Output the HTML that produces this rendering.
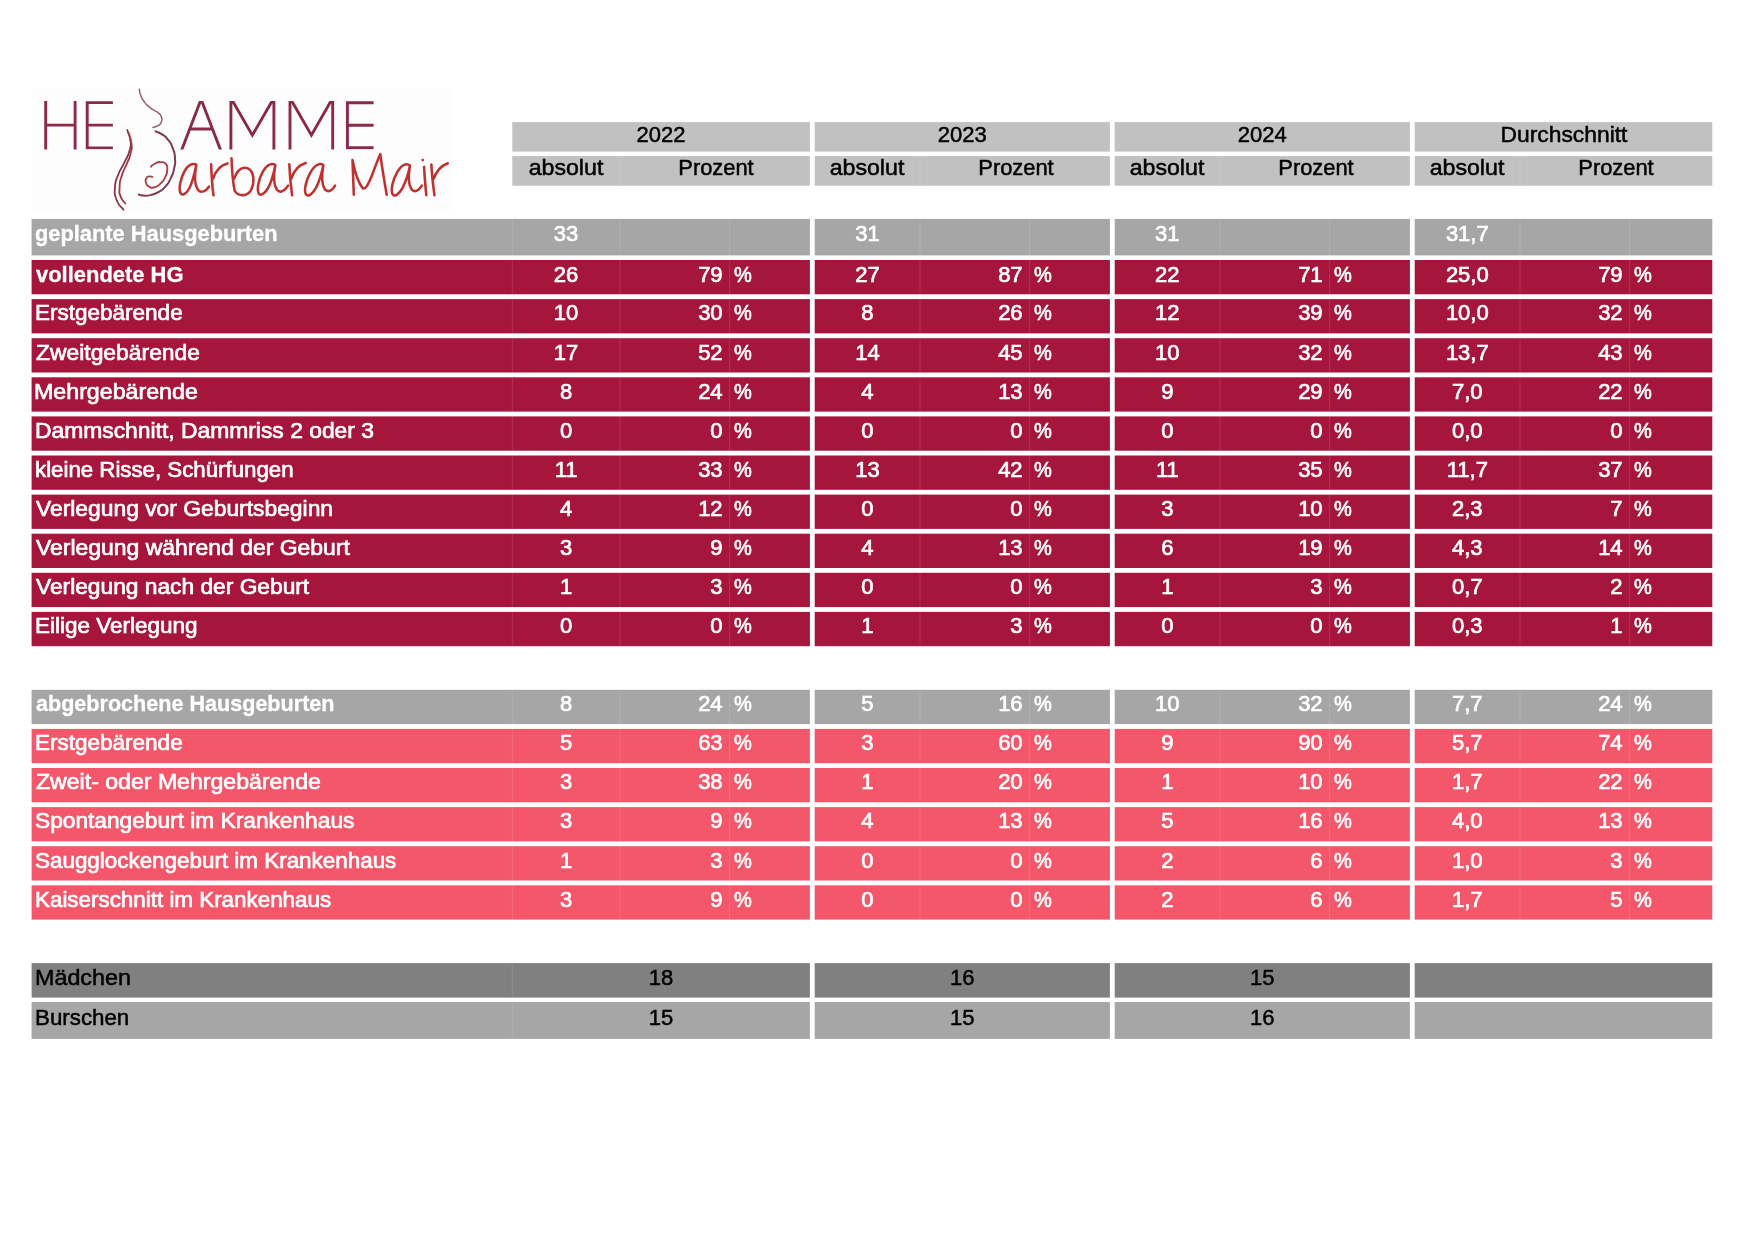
<!DOCTYPE html>
<html lang="de"><head><meta charset="utf-8"><title>Hausgeburten Statistik</title>
<style>
html,body{margin:0;padding:0;background:#fff}
body{width:1754px;height:1239px;position:relative;overflow:hidden;font-family:"Liberation Sans",sans-serif}
#bg,#logo{position:absolute;left:0;top:0}
#tx{position:absolute;left:0;top:0;width:1754px;height:1239px;will-change:transform}
.t{position:absolute;white-space:nowrap;font-size:22px;line-height:25px;height:25px;color:#fff;-webkit-text-stroke:0.7px currentColor}
.k{color:#000;-webkit-text-stroke-width:0.5px}
.b{font-weight:bold;-webkit-text-stroke-width:0.3px}
.l{transform-origin:0 50%}
.c{transform-origin:50% 50%}
.r{transform-origin:100% 50%}
</style></head><body>
<svg id="bg" width="1754" height="1239" viewBox="0 0 1754 1239">
<rect x="512.3" y="122.1" width="297.6" height="29.5" fill="#c1c1c1"/>
<rect x="512.3" y="156.1" width="297.6" height="29.6" fill="#c1c1c1"/>
<rect x="814.7" y="122.1" width="295.2" height="29.5" fill="#c1c1c1"/>
<rect x="814.7" y="156.1" width="295.2" height="29.6" fill="#c1c1c1"/>
<rect x="1114.7" y="122.1" width="295.2" height="29.5" fill="#c1c1c1"/>
<rect x="1114.7" y="156.1" width="295.2" height="29.6" fill="#c1c1c1"/>
<rect x="1414.7" y="122.1" width="297.6" height="29.5" fill="#c1c1c1"/>
<rect x="1414.7" y="156.1" width="297.6" height="29.6" fill="#c1c1c1"/>
<rect x="31.6" y="218.9" width="778.3" height="36.5" fill="#a6a6a6"/>
<rect x="814.7" y="218.9" width="295.2" height="36.5" fill="#a6a6a6"/>
<rect x="1114.7" y="218.9" width="295.2" height="36.5" fill="#a6a6a6"/>
<rect x="1414.7" y="218.9" width="297.6" height="36.5" fill="#a6a6a6"/>
<rect x="31.6" y="260.0" width="778.3" height="34.3" fill="#a6163c"/>
<rect x="814.7" y="260.0" width="295.2" height="34.3" fill="#a6163c"/>
<rect x="1114.7" y="260.0" width="295.2" height="34.3" fill="#a6163c"/>
<rect x="1414.7" y="260.0" width="297.6" height="34.3" fill="#a6163c"/>
<rect x="31.6" y="299.1" width="778.3" height="34.3" fill="#a6163c"/>
<rect x="814.7" y="299.1" width="295.2" height="34.3" fill="#a6163c"/>
<rect x="1114.7" y="299.1" width="295.2" height="34.3" fill="#a6163c"/>
<rect x="1414.7" y="299.1" width="297.6" height="34.3" fill="#a6163c"/>
<rect x="31.6" y="338.2" width="778.3" height="34.3" fill="#a6163c"/>
<rect x="814.7" y="338.2" width="295.2" height="34.3" fill="#a6163c"/>
<rect x="1114.7" y="338.2" width="295.2" height="34.3" fill="#a6163c"/>
<rect x="1414.7" y="338.2" width="297.6" height="34.3" fill="#a6163c"/>
<rect x="31.6" y="377.3" width="778.3" height="34.3" fill="#a6163c"/>
<rect x="814.7" y="377.3" width="295.2" height="34.3" fill="#a6163c"/>
<rect x="1114.7" y="377.3" width="295.2" height="34.3" fill="#a6163c"/>
<rect x="1414.7" y="377.3" width="297.6" height="34.3" fill="#a6163c"/>
<rect x="31.6" y="416.4" width="778.3" height="34.3" fill="#a6163c"/>
<rect x="814.7" y="416.4" width="295.2" height="34.3" fill="#a6163c"/>
<rect x="1114.7" y="416.4" width="295.2" height="34.3" fill="#a6163c"/>
<rect x="1414.7" y="416.4" width="297.6" height="34.3" fill="#a6163c"/>
<rect x="31.6" y="455.5" width="778.3" height="34.3" fill="#a6163c"/>
<rect x="814.7" y="455.5" width="295.2" height="34.3" fill="#a6163c"/>
<rect x="1114.7" y="455.5" width="295.2" height="34.3" fill="#a6163c"/>
<rect x="1414.7" y="455.5" width="297.6" height="34.3" fill="#a6163c"/>
<rect x="31.6" y="494.6" width="778.3" height="34.3" fill="#a6163c"/>
<rect x="814.7" y="494.6" width="295.2" height="34.3" fill="#a6163c"/>
<rect x="1114.7" y="494.6" width="295.2" height="34.3" fill="#a6163c"/>
<rect x="1414.7" y="494.6" width="297.6" height="34.3" fill="#a6163c"/>
<rect x="31.6" y="533.7" width="778.3" height="34.3" fill="#a6163c"/>
<rect x="814.7" y="533.7" width="295.2" height="34.3" fill="#a6163c"/>
<rect x="1114.7" y="533.7" width="295.2" height="34.3" fill="#a6163c"/>
<rect x="1414.7" y="533.7" width="297.6" height="34.3" fill="#a6163c"/>
<rect x="31.6" y="572.8" width="778.3" height="34.3" fill="#a6163c"/>
<rect x="814.7" y="572.8" width="295.2" height="34.3" fill="#a6163c"/>
<rect x="1114.7" y="572.8" width="295.2" height="34.3" fill="#a6163c"/>
<rect x="1414.7" y="572.8" width="297.6" height="34.3" fill="#a6163c"/>
<rect x="31.6" y="611.9" width="778.3" height="34.3" fill="#a6163c"/>
<rect x="814.7" y="611.9" width="295.2" height="34.3" fill="#a6163c"/>
<rect x="1114.7" y="611.9" width="295.2" height="34.3" fill="#a6163c"/>
<rect x="1414.7" y="611.9" width="297.6" height="34.3" fill="#a6163c"/>
<rect x="31.6" y="689.8" width="778.3" height="34.3" fill="#a6a6a6"/>
<rect x="814.7" y="689.8" width="295.2" height="34.3" fill="#a6a6a6"/>
<rect x="1114.7" y="689.8" width="295.2" height="34.3" fill="#a6a6a6"/>
<rect x="1414.7" y="689.8" width="297.6" height="34.3" fill="#a6a6a6"/>
<rect x="31.6" y="728.9" width="778.3" height="34.3" fill="#f4576a"/>
<rect x="814.7" y="728.9" width="295.2" height="34.3" fill="#f4576a"/>
<rect x="1114.7" y="728.9" width="295.2" height="34.3" fill="#f4576a"/>
<rect x="1414.7" y="728.9" width="297.6" height="34.3" fill="#f4576a"/>
<rect x="31.6" y="768.0" width="778.3" height="34.3" fill="#f4576a"/>
<rect x="814.7" y="768.0" width="295.2" height="34.3" fill="#f4576a"/>
<rect x="1114.7" y="768.0" width="295.2" height="34.3" fill="#f4576a"/>
<rect x="1414.7" y="768.0" width="297.6" height="34.3" fill="#f4576a"/>
<rect x="31.6" y="807.1" width="778.3" height="34.3" fill="#f4576a"/>
<rect x="814.7" y="807.1" width="295.2" height="34.3" fill="#f4576a"/>
<rect x="1114.7" y="807.1" width="295.2" height="34.3" fill="#f4576a"/>
<rect x="1414.7" y="807.1" width="297.6" height="34.3" fill="#f4576a"/>
<rect x="31.6" y="846.2" width="778.3" height="34.3" fill="#f4576a"/>
<rect x="814.7" y="846.2" width="295.2" height="34.3" fill="#f4576a"/>
<rect x="1114.7" y="846.2" width="295.2" height="34.3" fill="#f4576a"/>
<rect x="1414.7" y="846.2" width="297.6" height="34.3" fill="#f4576a"/>
<rect x="31.6" y="885.3" width="778.3" height="34.3" fill="#f4576a"/>
<rect x="814.7" y="885.3" width="295.2" height="34.3" fill="#f4576a"/>
<rect x="1114.7" y="885.3" width="295.2" height="34.3" fill="#f4576a"/>
<rect x="1414.7" y="885.3" width="297.6" height="34.3" fill="#f4576a"/>
<rect x="31.6" y="963.1" width="778.3" height="34.5" fill="#808080"/>
<rect x="814.7" y="963.1" width="295.2" height="34.5" fill="#808080"/>
<rect x="1114.7" y="963.1" width="295.2" height="34.5" fill="#808080"/>
<rect x="1414.7" y="963.1" width="297.6" height="34.5" fill="#808080"/>
<rect x="31.6" y="1002.0" width="778.3" height="36.9" fill="#a6a6a6"/>
<rect x="814.7" y="1002.0" width="295.2" height="36.9" fill="#a6a6a6"/>
<rect x="1114.7" y="1002.0" width="295.2" height="36.9" fill="#a6a6a6"/>
<rect x="1414.7" y="1002.0" width="297.6" height="36.9" fill="#a6a6a6"/>
<g stroke="#fff" stroke-opacity="0.13" stroke-width="1">
<line x1="620.0" y1="156.1" x2="620.0" y2="185.7"/>
<line x1="920.0" y1="156.1" x2="920.0" y2="185.7"/>
<line x1="1220.0" y1="156.1" x2="1220.0" y2="185.7"/>
<line x1="1520.0" y1="156.1" x2="1520.0" y2="185.7"/>
<line x1="512.3" y1="218.9" x2="512.3" y2="255.4"/>
<line x1="620.0" y1="218.9" x2="620.0" y2="255.4"/>
<line x1="729.6" y1="218.9" x2="729.6" y2="255.4"/>
<line x1="920.0" y1="218.9" x2="920.0" y2="255.4"/>
<line x1="1029.6" y1="218.9" x2="1029.6" y2="255.4"/>
<line x1="1220.0" y1="218.9" x2="1220.0" y2="255.4"/>
<line x1="1329.6" y1="218.9" x2="1329.6" y2="255.4"/>
<line x1="1520.0" y1="218.9" x2="1520.0" y2="255.4"/>
<line x1="1629.6" y1="218.9" x2="1629.6" y2="255.4"/>
<line x1="512.3" y1="260.0" x2="512.3" y2="294.3"/>
<line x1="620.0" y1="260.0" x2="620.0" y2="294.3"/>
<line x1="729.6" y1="260.0" x2="729.6" y2="294.3"/>
<line x1="920.0" y1="260.0" x2="920.0" y2="294.3"/>
<line x1="1029.6" y1="260.0" x2="1029.6" y2="294.3"/>
<line x1="1220.0" y1="260.0" x2="1220.0" y2="294.3"/>
<line x1="1329.6" y1="260.0" x2="1329.6" y2="294.3"/>
<line x1="1520.0" y1="260.0" x2="1520.0" y2="294.3"/>
<line x1="1629.6" y1="260.0" x2="1629.6" y2="294.3"/>
<line x1="512.3" y1="299.1" x2="512.3" y2="333.4"/>
<line x1="620.0" y1="299.1" x2="620.0" y2="333.4"/>
<line x1="729.6" y1="299.1" x2="729.6" y2="333.4"/>
<line x1="920.0" y1="299.1" x2="920.0" y2="333.4"/>
<line x1="1029.6" y1="299.1" x2="1029.6" y2="333.4"/>
<line x1="1220.0" y1="299.1" x2="1220.0" y2="333.4"/>
<line x1="1329.6" y1="299.1" x2="1329.6" y2="333.4"/>
<line x1="1520.0" y1="299.1" x2="1520.0" y2="333.4"/>
<line x1="1629.6" y1="299.1" x2="1629.6" y2="333.4"/>
<line x1="512.3" y1="338.2" x2="512.3" y2="372.5"/>
<line x1="620.0" y1="338.2" x2="620.0" y2="372.5"/>
<line x1="729.6" y1="338.2" x2="729.6" y2="372.5"/>
<line x1="920.0" y1="338.2" x2="920.0" y2="372.5"/>
<line x1="1029.6" y1="338.2" x2="1029.6" y2="372.5"/>
<line x1="1220.0" y1="338.2" x2="1220.0" y2="372.5"/>
<line x1="1329.6" y1="338.2" x2="1329.6" y2="372.5"/>
<line x1="1520.0" y1="338.2" x2="1520.0" y2="372.5"/>
<line x1="1629.6" y1="338.2" x2="1629.6" y2="372.5"/>
<line x1="512.3" y1="377.3" x2="512.3" y2="411.6"/>
<line x1="620.0" y1="377.3" x2="620.0" y2="411.6"/>
<line x1="729.6" y1="377.3" x2="729.6" y2="411.6"/>
<line x1="920.0" y1="377.3" x2="920.0" y2="411.6"/>
<line x1="1029.6" y1="377.3" x2="1029.6" y2="411.6"/>
<line x1="1220.0" y1="377.3" x2="1220.0" y2="411.6"/>
<line x1="1329.6" y1="377.3" x2="1329.6" y2="411.6"/>
<line x1="1520.0" y1="377.3" x2="1520.0" y2="411.6"/>
<line x1="1629.6" y1="377.3" x2="1629.6" y2="411.6"/>
<line x1="512.3" y1="416.4" x2="512.3" y2="450.7"/>
<line x1="620.0" y1="416.4" x2="620.0" y2="450.7"/>
<line x1="729.6" y1="416.4" x2="729.6" y2="450.7"/>
<line x1="920.0" y1="416.4" x2="920.0" y2="450.7"/>
<line x1="1029.6" y1="416.4" x2="1029.6" y2="450.7"/>
<line x1="1220.0" y1="416.4" x2="1220.0" y2="450.7"/>
<line x1="1329.6" y1="416.4" x2="1329.6" y2="450.7"/>
<line x1="1520.0" y1="416.4" x2="1520.0" y2="450.7"/>
<line x1="1629.6" y1="416.4" x2="1629.6" y2="450.7"/>
<line x1="512.3" y1="455.5" x2="512.3" y2="489.8"/>
<line x1="620.0" y1="455.5" x2="620.0" y2="489.8"/>
<line x1="729.6" y1="455.5" x2="729.6" y2="489.8"/>
<line x1="920.0" y1="455.5" x2="920.0" y2="489.8"/>
<line x1="1029.6" y1="455.5" x2="1029.6" y2="489.8"/>
<line x1="1220.0" y1="455.5" x2="1220.0" y2="489.8"/>
<line x1="1329.6" y1="455.5" x2="1329.6" y2="489.8"/>
<line x1="1520.0" y1="455.5" x2="1520.0" y2="489.8"/>
<line x1="1629.6" y1="455.5" x2="1629.6" y2="489.8"/>
<line x1="512.3" y1="494.6" x2="512.3" y2="528.9"/>
<line x1="620.0" y1="494.6" x2="620.0" y2="528.9"/>
<line x1="729.6" y1="494.6" x2="729.6" y2="528.9"/>
<line x1="920.0" y1="494.6" x2="920.0" y2="528.9"/>
<line x1="1029.6" y1="494.6" x2="1029.6" y2="528.9"/>
<line x1="1220.0" y1="494.6" x2="1220.0" y2="528.9"/>
<line x1="1329.6" y1="494.6" x2="1329.6" y2="528.9"/>
<line x1="1520.0" y1="494.6" x2="1520.0" y2="528.9"/>
<line x1="1629.6" y1="494.6" x2="1629.6" y2="528.9"/>
<line x1="512.3" y1="533.7" x2="512.3" y2="568.0"/>
<line x1="620.0" y1="533.7" x2="620.0" y2="568.0"/>
<line x1="729.6" y1="533.7" x2="729.6" y2="568.0"/>
<line x1="920.0" y1="533.7" x2="920.0" y2="568.0"/>
<line x1="1029.6" y1="533.7" x2="1029.6" y2="568.0"/>
<line x1="1220.0" y1="533.7" x2="1220.0" y2="568.0"/>
<line x1="1329.6" y1="533.7" x2="1329.6" y2="568.0"/>
<line x1="1520.0" y1="533.7" x2="1520.0" y2="568.0"/>
<line x1="1629.6" y1="533.7" x2="1629.6" y2="568.0"/>
<line x1="512.3" y1="572.8" x2="512.3" y2="607.1"/>
<line x1="620.0" y1="572.8" x2="620.0" y2="607.1"/>
<line x1="729.6" y1="572.8" x2="729.6" y2="607.1"/>
<line x1="920.0" y1="572.8" x2="920.0" y2="607.1"/>
<line x1="1029.6" y1="572.8" x2="1029.6" y2="607.1"/>
<line x1="1220.0" y1="572.8" x2="1220.0" y2="607.1"/>
<line x1="1329.6" y1="572.8" x2="1329.6" y2="607.1"/>
<line x1="1520.0" y1="572.8" x2="1520.0" y2="607.1"/>
<line x1="1629.6" y1="572.8" x2="1629.6" y2="607.1"/>
<line x1="512.3" y1="611.9" x2="512.3" y2="646.2"/>
<line x1="620.0" y1="611.9" x2="620.0" y2="646.2"/>
<line x1="729.6" y1="611.9" x2="729.6" y2="646.2"/>
<line x1="920.0" y1="611.9" x2="920.0" y2="646.2"/>
<line x1="1029.6" y1="611.9" x2="1029.6" y2="646.2"/>
<line x1="1220.0" y1="611.9" x2="1220.0" y2="646.2"/>
<line x1="1329.6" y1="611.9" x2="1329.6" y2="646.2"/>
<line x1="1520.0" y1="611.9" x2="1520.0" y2="646.2"/>
<line x1="1629.6" y1="611.9" x2="1629.6" y2="646.2"/>
<line x1="512.3" y1="689.8" x2="512.3" y2="724.1"/>
<line x1="620.0" y1="689.8" x2="620.0" y2="724.1"/>
<line x1="729.6" y1="689.8" x2="729.6" y2="724.1"/>
<line x1="920.0" y1="689.8" x2="920.0" y2="724.1"/>
<line x1="1029.6" y1="689.8" x2="1029.6" y2="724.1"/>
<line x1="1220.0" y1="689.8" x2="1220.0" y2="724.1"/>
<line x1="1329.6" y1="689.8" x2="1329.6" y2="724.1"/>
<line x1="1520.0" y1="689.8" x2="1520.0" y2="724.1"/>
<line x1="1629.6" y1="689.8" x2="1629.6" y2="724.1"/>
<line x1="512.3" y1="728.9" x2="512.3" y2="763.2"/>
<line x1="620.0" y1="728.9" x2="620.0" y2="763.2"/>
<line x1="729.6" y1="728.9" x2="729.6" y2="763.2"/>
<line x1="920.0" y1="728.9" x2="920.0" y2="763.2"/>
<line x1="1029.6" y1="728.9" x2="1029.6" y2="763.2"/>
<line x1="1220.0" y1="728.9" x2="1220.0" y2="763.2"/>
<line x1="1329.6" y1="728.9" x2="1329.6" y2="763.2"/>
<line x1="1520.0" y1="728.9" x2="1520.0" y2="763.2"/>
<line x1="1629.6" y1="728.9" x2="1629.6" y2="763.2"/>
<line x1="512.3" y1="768.0" x2="512.3" y2="802.3"/>
<line x1="620.0" y1="768.0" x2="620.0" y2="802.3"/>
<line x1="729.6" y1="768.0" x2="729.6" y2="802.3"/>
<line x1="920.0" y1="768.0" x2="920.0" y2="802.3"/>
<line x1="1029.6" y1="768.0" x2="1029.6" y2="802.3"/>
<line x1="1220.0" y1="768.0" x2="1220.0" y2="802.3"/>
<line x1="1329.6" y1="768.0" x2="1329.6" y2="802.3"/>
<line x1="1520.0" y1="768.0" x2="1520.0" y2="802.3"/>
<line x1="1629.6" y1="768.0" x2="1629.6" y2="802.3"/>
<line x1="512.3" y1="807.1" x2="512.3" y2="841.4"/>
<line x1="620.0" y1="807.1" x2="620.0" y2="841.4"/>
<line x1="729.6" y1="807.1" x2="729.6" y2="841.4"/>
<line x1="920.0" y1="807.1" x2="920.0" y2="841.4"/>
<line x1="1029.6" y1="807.1" x2="1029.6" y2="841.4"/>
<line x1="1220.0" y1="807.1" x2="1220.0" y2="841.4"/>
<line x1="1329.6" y1="807.1" x2="1329.6" y2="841.4"/>
<line x1="1520.0" y1="807.1" x2="1520.0" y2="841.4"/>
<line x1="1629.6" y1="807.1" x2="1629.6" y2="841.4"/>
<line x1="512.3" y1="846.2" x2="512.3" y2="880.5"/>
<line x1="620.0" y1="846.2" x2="620.0" y2="880.5"/>
<line x1="729.6" y1="846.2" x2="729.6" y2="880.5"/>
<line x1="920.0" y1="846.2" x2="920.0" y2="880.5"/>
<line x1="1029.6" y1="846.2" x2="1029.6" y2="880.5"/>
<line x1="1220.0" y1="846.2" x2="1220.0" y2="880.5"/>
<line x1="1329.6" y1="846.2" x2="1329.6" y2="880.5"/>
<line x1="1520.0" y1="846.2" x2="1520.0" y2="880.5"/>
<line x1="1629.6" y1="846.2" x2="1629.6" y2="880.5"/>
<line x1="512.3" y1="885.3" x2="512.3" y2="919.6"/>
<line x1="620.0" y1="885.3" x2="620.0" y2="919.6"/>
<line x1="729.6" y1="885.3" x2="729.6" y2="919.6"/>
<line x1="920.0" y1="885.3" x2="920.0" y2="919.6"/>
<line x1="1029.6" y1="885.3" x2="1029.6" y2="919.6"/>
<line x1="1220.0" y1="885.3" x2="1220.0" y2="919.6"/>
<line x1="1329.6" y1="885.3" x2="1329.6" y2="919.6"/>
<line x1="1520.0" y1="885.3" x2="1520.0" y2="919.6"/>
<line x1="1629.6" y1="885.3" x2="1629.6" y2="919.6"/>
<line x1="512.3" y1="963.1" x2="512.3" y2="997.6"/>
<line x1="512.3" y1="1002.0" x2="512.3" y2="1038.9"/>
</g></svg>
<svg id="logo" width="520" height="230" viewBox="0 0 520 230" fill="none" stroke-linecap="round" stroke-linejoin="round">
<rect x="32" y="88" width="421" height="125" fill="#fefdfd" stroke="none"/>
<clipPath id="cp"><rect x="30" y="101" width="360" height="48.4"/></clipPath>
<g clip-path="url(#cp)"><g stroke="#8b2a46" stroke-width="2.9" stroke-linecap="butt" stroke-linejoin="miter" stroke-miterlimit="8">
<path d="M45.7 99V152M75.1 99V152M45.7 125.1H75.1"/>
<path d="M112.9 102.6H87.2V147.9H112.9M87.2 125.1H112.9"/>
<path d="M180.9 152L201.1 99.3L221.3 152M189.8 129H212.4"/>
<path d="M230.9 152V98L252.3 135.2L273.9 98V152"/>
<path d="M290 152V98L311.4 135.2L332.7 98V152"/>
<path d="M373.6 102.8H347.4V147.8H373.6M347.4 125.2H373.6"/>
</g></g>
<g stroke="#7d3a52" stroke-width="1.7">
<path d="M139.3 89.2C139.8 91.2 139.1 91.2 140.7 95.2C142.2 99.2 141.3 97.5 143.9 101.3C146.6 105.0 145.3 103.4 148.6 106.4C151.8 109.3 150.4 107.9 153.7 110.1C156.9 112.2 155.8 110.5 158.3 112.9C160.9 115.2 160.4 114.1 161.4 117.0C162.4 120.0 162.4 118.9 161.4 121.7C160.4 124.5 161.1 123.5 158.3 125.4C155.5 127.4 154.8 126.8 153.0 127.5" stroke-width="1.5" stroke-opacity=".8"/>
<path d="M155.5 131.4C157.6 132.4 157.4 131.4 161.6 134.2C165.8 137.0 164.4 135.2 168.1 139.8C171.8 144.4 170.4 142.0 172.7 148.2C175.0 154.3 174.6 151.6 175.0 158.4C175.5 165.2 175.5 162.1 174.1 168.6C172.7 175.1 173.7 172.0 170.9 177.9C168.1 183.8 169.8 181.6 165.8 186.2C161.7 190.9 163.9 188.9 158.8 191.8C153.7 194.7 155.7 193.8 150.4 195.1C145.2 196.3 146.9 195.7 143.0 195.5C139.1 195.4 140.2 194.9 138.8 194.6" stroke-width="2"/>
<path d="M127.2 130.0C128.2 133.3 129.5 133.0 130.3 139.9C131.1 146.8 131.6 143.0 129.5 150.7C127.5 158.3 128.0 154.7 124.2 162.9C120.3 171.1 121.1 167.0 118.0 175.2C115.0 183.3 115.5 179.3 115.0 187.4C114.5 195.6 113.7 192.3 116.5 199.7C119.3 207.1 121.1 206.3 123.4 209.7" stroke="#86354a" stroke-width="1.8"/>
</g>
<g stroke="#a9434b" stroke-width="1.9">
<path d="M150.9 166.7C152.3 165.6 151.8 165.0 155.1 163.5C158.3 161.9 157.1 161.9 160.6 162.1C164.2 162.2 163.6 161.5 165.8 163.9C167.9 166.4 167.3 165.2 167.2 169.5C167.0 173.9 167.5 172.3 165.3 176.9C163.1 181.6 164.2 180.0 160.6 183.4C157.1 186.9 158.5 186.1 154.6 187.2C150.7 188.2 151.9 188.2 149.0 186.7C146.2 185.2 146.9 185.3 146.0 182.5C145.0 179.7 145.2 180.4 146.3 178.3C147.3 176.3 147.0 176.9 149.0 176.5C151.1 176.0 151.2 176.8 152.3 176.9"/>
<path d="M128.0 132.3C129.1 135.8 130.5 136.1 131.4 143.0C132.3 149.9 132.1 146.3 130.7 153.0C129.3 159.6 130.2 155.5 127.2 162.9C124.3 170.3 124.4 167.0 121.9 175.2C119.3 183.3 119.9 180.3 119.6 187.4C119.2 194.6 118.8 191.3 120.7 196.6C122.6 202.0 123.8 201.2 125.3 203.5" stroke="#a03a45" stroke-width="1.8"/>
</g>
<g stroke="#bf3230" stroke-width="2.55">
<path d="M196.3 164.6 C193.1 163.0 188.4 164.2 184.4 171.3 C180.8 177.7 178.4 188.1 180.4 192.9 C182.0 196.1 186.0 194.5 189.2 188.5 C191.9 183.3 194.7 172.9 196.3 165.0 C194.3 175.3 194.7 184.9 197.9 189.7 C201.1 193.7 205.9 191.3 209.1 186.5"/>
<path d="M211.1 164.2 C211.5 175.3 212.3 186.5 213.5 195.3 M213.1 178.5 C215.5 171.3 220.3 165.0 227.5 163.4"/>
<path d="M231.5 158.2 C231.9 170.5 233.0 182.5 234.6 190.5 C236.2 193.7 240.2 195.7 245.0 194.9 C250.6 193.7 253.8 186.5 253.4 178.5 C253.0 171.3 249.0 167.3 244.2 167.7 C239.4 168.1 236.2 172.9 234.2 178.5"/>
<path d="M275.3 165.0 C272.2 163.0 267.4 163.8 263.0 171.3 C259.0 178.5 256.6 188.1 258.6 193.3 C260.2 196.1 264.2 194.5 267.8 188.5 C271.0 182.9 273.8 172.9 275.3 165.4 C273.4 175.3 273.8 184.9 276.9 189.7 C280.1 193.7 284.9 190.9 288.1 185.7"/>
<path d="M289.3 164.2 C289.7 175.3 290.9 186.5 292.1 195.3 M291.3 178.5 C293.7 171.3 298.5 165.0 305.7 163.0"/>
<path d="M323.3 165.1 C320.1 162.8 315.1 164.2 310.5 172.4 C306.4 179.7 303.6 189.7 305.9 194.3 C307.8 197.0 311.9 195.2 316.0 187.9 C319.2 181.5 321.9 172.4 323.3 165.5 C321.4 176.0 321.9 185.1 325.1 189.7 C328.3 192.9 332.4 190.2 335.1 185.6"/>
<path d="M353.8 194.7 C353.4 183.3 352.9 171.5 352.5 160.1 C354.7 171.5 358.4 183.3 362.9 188.3 C365.7 189.7 368.4 184.2 372.1 175.1 C374.8 167.8 377.5 160.5 380.3 154.1 C382.1 167.8 384.4 181.5 386.7 194.7"/>
<path d="M409.9 165.5 C406.7 162.8 401.7 164.2 397.1 172.4 C393.0 179.7 390.3 189.7 392.6 194.3 C394.4 197.0 398.5 195.2 402.6 187.9 C405.8 181.5 408.6 172.4 409.9 166.0 C408.1 176.0 408.6 185.1 411.7 189.7 C414.9 192.9 419.0 190.2 421.8 185.6"/>
<path d="M424.1 166.9 C424.5 176.9 425.4 186.0 426.3 195.2 M422.7 160.1 L422.8 160.1"/>
<path d="M431.4 164.6 C431.8 175.1 433.2 186.0 434.5 195.2 M433.6 178.8 C435.9 172.4 440.5 166.0 447.8 163.2"/>
</g>
</svg>
<div id="tx">
<span class="t c k" style="left:461.1px;width:400px;text-align:center;top:122.0px">2022</span>
<span class="t c k" style="left:366.1px;width:400px;text-align:center;top:155.0px;transform:scaleX(1.0529)">absolut</span>
<span class="t c k" style="left:516.4px;width:400px;text-align:center;top:155.0px;transform:scaleX(0.9947)">Prozent</span>
<span class="t c k" style="left:762.3px;width:400px;text-align:center;top:122.0px">2023</span>
<span class="t c k" style="left:667.4px;width:400px;text-align:center;top:155.0px;transform:scaleX(1.0529)">absolut</span>
<span class="t c k" style="left:816.4px;width:400px;text-align:center;top:155.0px;transform:scaleX(0.9947)">Prozent</span>
<span class="t c k" style="left:1062.3px;width:400px;text-align:center;top:122.0px">2024</span>
<span class="t c k" style="left:967.3px;width:400px;text-align:center;top:155.0px;transform:scaleX(1.0529)">absolut</span>
<span class="t c k" style="left:1116.4px;width:400px;text-align:center;top:155.0px;transform:scaleX(0.9947)">Prozent</span>
<span class="t c k" style="left:1363.5px;width:400px;text-align:center;top:122.0px;transform:scaleX(1.0377)">Durchschnitt</span>
<span class="t c k" style="left:1267.3px;width:400px;text-align:center;top:155.0px;transform:scaleX(1.0529)">absolut</span>
<span class="t c k" style="left:1416.4px;width:400px;text-align:center;top:155.0px;transform:scaleX(0.9947)">Prozent</span>
<span class="t l b" style="left:34.5px;top:221.0px;transform:scaleX(0.9922)">geplante Hausgeburten</span>
<span class="t c" style="left:366.1px;width:400px;text-align:center;top:221.0px">33</span>
<span class="t c" style="left:667.4px;width:400px;text-align:center;top:221.0px">31</span>
<span class="t c" style="left:967.3px;width:400px;text-align:center;top:221.0px">31</span>
<span class="t c" style="left:1267.3px;width:400px;text-align:center;top:221.0px">31,7</span>
<span class="t l b" style="left:35.5px;top:262.0px;transform:scaleX(0.9973)">vollendete HG</span>
<span class="t c" style="left:366.1px;width:400px;text-align:center;top:262.0px">26</span>
<span class="t r" style="right:1031.4px;top:262.0px">79</span>
<span class="t l" style="left:734.2px;top:262.0px;transform:scaleX(0.9105)">%</span>
<span class="t c" style="left:667.4px;width:400px;text-align:center;top:262.0px">27</span>
<span class="t r" style="right:731.4px;top:262.0px">87</span>
<span class="t l" style="left:1034.2px;top:262.0px;transform:scaleX(0.9105)">%</span>
<span class="t c" style="left:967.3px;width:400px;text-align:center;top:262.0px">22</span>
<span class="t r" style="right:431.4px;top:262.0px">71</span>
<span class="t l" style="left:1334.2px;top:262.0px;transform:scaleX(0.9105)">%</span>
<span class="t c" style="left:1267.3px;width:400px;text-align:center;top:262.0px">25,0</span>
<span class="t r" style="right:131.4px;top:262.0px">79</span>
<span class="t l" style="left:1634.2px;top:262.0px;transform:scaleX(0.9105)">%</span>
<span class="t l" style="left:34.5px;top:300.0px;transform:scaleX(1.0231)">Erstgebärende</span>
<span class="t c" style="left:366.1px;width:400px;text-align:center;top:300.0px">10</span>
<span class="t r" style="right:1031.4px;top:300.0px">30</span>
<span class="t l" style="left:734.2px;top:300.0px;transform:scaleX(0.9105)">%</span>
<span class="t c" style="left:667.4px;width:400px;text-align:center;top:300.0px">8</span>
<span class="t r" style="right:731.4px;top:300.0px">26</span>
<span class="t l" style="left:1034.2px;top:300.0px;transform:scaleX(0.9105)">%</span>
<span class="t c" style="left:967.3px;width:400px;text-align:center;top:300.0px">12</span>
<span class="t r" style="right:431.4px;top:300.0px">39</span>
<span class="t l" style="left:1334.2px;top:300.0px;transform:scaleX(0.9105)">%</span>
<span class="t c" style="left:1267.3px;width:400px;text-align:center;top:300.0px">10,0</span>
<span class="t r" style="right:131.4px;top:300.0px">32</span>
<span class="t l" style="left:1634.2px;top:300.0px;transform:scaleX(0.9105)">%</span>
<span class="t l" style="left:35.5px;top:340.0px;transform:scaleX(1.0395)">Zweitgebärende</span>
<span class="t c" style="left:366.1px;width:400px;text-align:center;top:340.0px">17</span>
<span class="t r" style="right:1031.4px;top:340.0px">52</span>
<span class="t l" style="left:734.2px;top:340.0px;transform:scaleX(0.9105)">%</span>
<span class="t c" style="left:667.4px;width:400px;text-align:center;top:340.0px">14</span>
<span class="t r" style="right:731.4px;top:340.0px">45</span>
<span class="t l" style="left:1034.2px;top:340.0px;transform:scaleX(0.9105)">%</span>
<span class="t c" style="left:967.3px;width:400px;text-align:center;top:340.0px">10</span>
<span class="t r" style="right:431.4px;top:340.0px">32</span>
<span class="t l" style="left:1334.2px;top:340.0px;transform:scaleX(0.9105)">%</span>
<span class="t c" style="left:1267.3px;width:400px;text-align:center;top:340.0px">13,7</span>
<span class="t r" style="right:131.4px;top:340.0px">43</span>
<span class="t l" style="left:1634.2px;top:340.0px;transform:scaleX(0.9105)">%</span>
<span class="t l" style="left:34.4px;top:379.0px;transform:scaleX(1.0545)">Mehrgebärende</span>
<span class="t c" style="left:366.1px;width:400px;text-align:center;top:379.0px">8</span>
<span class="t r" style="right:1031.4px;top:379.0px">24</span>
<span class="t l" style="left:734.2px;top:379.0px;transform:scaleX(0.9105)">%</span>
<span class="t c" style="left:667.4px;width:400px;text-align:center;top:379.0px">4</span>
<span class="t r" style="right:731.4px;top:379.0px">13</span>
<span class="t l" style="left:1034.2px;top:379.0px;transform:scaleX(0.9105)">%</span>
<span class="t c" style="left:967.3px;width:400px;text-align:center;top:379.0px">9</span>
<span class="t r" style="right:431.4px;top:379.0px">29</span>
<span class="t l" style="left:1334.2px;top:379.0px;transform:scaleX(0.9105)">%</span>
<span class="t c" style="left:1267.3px;width:400px;text-align:center;top:379.0px">7,0</span>
<span class="t r" style="right:131.4px;top:379.0px">22</span>
<span class="t l" style="left:1634.2px;top:379.0px;transform:scaleX(0.9105)">%</span>
<span class="t l" style="left:34.5px;top:418.0px;transform:scaleX(1.0385)">Dammschnitt, Dammriss 2 oder 3</span>
<span class="t c" style="left:366.1px;width:400px;text-align:center;top:418.0px">0</span>
<span class="t r" style="right:1031.4px;top:418.0px">0</span>
<span class="t l" style="left:734.2px;top:418.0px;transform:scaleX(0.9105)">%</span>
<span class="t c" style="left:667.4px;width:400px;text-align:center;top:418.0px">0</span>
<span class="t r" style="right:731.4px;top:418.0px">0</span>
<span class="t l" style="left:1034.2px;top:418.0px;transform:scaleX(0.9105)">%</span>
<span class="t c" style="left:967.3px;width:400px;text-align:center;top:418.0px">0</span>
<span class="t r" style="right:431.4px;top:418.0px">0</span>
<span class="t l" style="left:1334.2px;top:418.0px;transform:scaleX(0.9105)">%</span>
<span class="t c" style="left:1267.3px;width:400px;text-align:center;top:418.0px">0,0</span>
<span class="t r" style="right:131.4px;top:418.0px">0</span>
<span class="t l" style="left:1634.2px;top:418.0px;transform:scaleX(0.9105)">%</span>
<span class="t l" style="left:34.5px;top:457.0px;transform:scaleX(1.0118)">kleine Risse, Schürfungen</span>
<span class="t c" style="left:366.1px;width:400px;text-align:center;top:457.0px">11</span>
<span class="t r" style="right:1031.4px;top:457.0px">33</span>
<span class="t l" style="left:734.2px;top:457.0px;transform:scaleX(0.9105)">%</span>
<span class="t c" style="left:667.4px;width:400px;text-align:center;top:457.0px">13</span>
<span class="t r" style="right:731.4px;top:457.0px">42</span>
<span class="t l" style="left:1034.2px;top:457.0px;transform:scaleX(0.9105)">%</span>
<span class="t c" style="left:967.3px;width:400px;text-align:center;top:457.0px">11</span>
<span class="t r" style="right:431.4px;top:457.0px">35</span>
<span class="t l" style="left:1334.2px;top:457.0px;transform:scaleX(0.9105)">%</span>
<span class="t c" style="left:1267.3px;width:400px;text-align:center;top:457.0px">11,7</span>
<span class="t r" style="right:131.4px;top:457.0px">37</span>
<span class="t l" style="left:1634.2px;top:457.0px;transform:scaleX(0.9105)">%</span>
<span class="t l" style="left:35.5px;top:496.0px;transform:scaleX(1.0379)">Verlegung vor Geburtsbeginn</span>
<span class="t c" style="left:366.1px;width:400px;text-align:center;top:496.0px">4</span>
<span class="t r" style="right:1031.4px;top:496.0px">12</span>
<span class="t l" style="left:734.2px;top:496.0px;transform:scaleX(0.9105)">%</span>
<span class="t c" style="left:667.4px;width:400px;text-align:center;top:496.0px">0</span>
<span class="t r" style="right:731.4px;top:496.0px">0</span>
<span class="t l" style="left:1034.2px;top:496.0px;transform:scaleX(0.9105)">%</span>
<span class="t c" style="left:967.3px;width:400px;text-align:center;top:496.0px">3</span>
<span class="t r" style="right:431.4px;top:496.0px">10</span>
<span class="t l" style="left:1334.2px;top:496.0px;transform:scaleX(0.9105)">%</span>
<span class="t c" style="left:1267.3px;width:400px;text-align:center;top:496.0px">2,3</span>
<span class="t r" style="right:131.4px;top:496.0px">7</span>
<span class="t l" style="left:1634.2px;top:496.0px;transform:scaleX(0.9105)">%</span>
<span class="t l" style="left:35.5px;top:535.0px;transform:scaleX(1.0432)">Verlegung während der Geburt</span>
<span class="t c" style="left:366.1px;width:400px;text-align:center;top:535.0px">3</span>
<span class="t r" style="right:1031.4px;top:535.0px">9</span>
<span class="t l" style="left:734.2px;top:535.0px;transform:scaleX(0.9105)">%</span>
<span class="t c" style="left:667.4px;width:400px;text-align:center;top:535.0px">4</span>
<span class="t r" style="right:731.4px;top:535.0px">13</span>
<span class="t l" style="left:1034.2px;top:535.0px;transform:scaleX(0.9105)">%</span>
<span class="t c" style="left:967.3px;width:400px;text-align:center;top:535.0px">6</span>
<span class="t r" style="right:431.4px;top:535.0px">19</span>
<span class="t l" style="left:1334.2px;top:535.0px;transform:scaleX(0.9105)">%</span>
<span class="t c" style="left:1267.3px;width:400px;text-align:center;top:535.0px">4,3</span>
<span class="t r" style="right:131.4px;top:535.0px">14</span>
<span class="t l" style="left:1634.2px;top:535.0px;transform:scaleX(0.9105)">%</span>
<span class="t l" style="left:35.5px;top:574.0px;transform:scaleX(1.0341)">Verlegung nach der Geburt</span>
<span class="t c" style="left:366.1px;width:400px;text-align:center;top:574.0px">1</span>
<span class="t r" style="right:1031.4px;top:574.0px">3</span>
<span class="t l" style="left:734.2px;top:574.0px;transform:scaleX(0.9105)">%</span>
<span class="t c" style="left:667.4px;width:400px;text-align:center;top:574.0px">0</span>
<span class="t r" style="right:731.4px;top:574.0px">0</span>
<span class="t l" style="left:1034.2px;top:574.0px;transform:scaleX(0.9105)">%</span>
<span class="t c" style="left:967.3px;width:400px;text-align:center;top:574.0px">1</span>
<span class="t r" style="right:431.4px;top:574.0px">3</span>
<span class="t l" style="left:1334.2px;top:574.0px;transform:scaleX(0.9105)">%</span>
<span class="t c" style="left:1267.3px;width:400px;text-align:center;top:574.0px">0,7</span>
<span class="t r" style="right:131.4px;top:574.0px">2</span>
<span class="t l" style="left:1634.2px;top:574.0px;transform:scaleX(0.9105)">%</span>
<span class="t l" style="left:34.5px;top:613.0px;transform:scaleX(1.0223)">Eilige Verlegung</span>
<span class="t c" style="left:366.1px;width:400px;text-align:center;top:613.0px">0</span>
<span class="t r" style="right:1031.4px;top:613.0px">0</span>
<span class="t l" style="left:734.2px;top:613.0px;transform:scaleX(0.9105)">%</span>
<span class="t c" style="left:667.4px;width:400px;text-align:center;top:613.0px">1</span>
<span class="t r" style="right:731.4px;top:613.0px">3</span>
<span class="t l" style="left:1034.2px;top:613.0px;transform:scaleX(0.9105)">%</span>
<span class="t c" style="left:967.3px;width:400px;text-align:center;top:613.0px">0</span>
<span class="t r" style="right:431.4px;top:613.0px">0</span>
<span class="t l" style="left:1334.2px;top:613.0px;transform:scaleX(0.9105)">%</span>
<span class="t c" style="left:1267.3px;width:400px;text-align:center;top:613.0px">0,3</span>
<span class="t r" style="right:131.4px;top:613.0px">1</span>
<span class="t l" style="left:1634.2px;top:613.0px;transform:scaleX(0.9105)">%</span>
<span class="t l b" style="left:35.5px;top:691.0px;transform:scaleX(0.9806)">abgebrochene Hausgeburten</span>
<span class="t c" style="left:366.1px;width:400px;text-align:center;top:691.0px">8</span>
<span class="t r" style="right:1031.4px;top:691.0px">24</span>
<span class="t l" style="left:734.2px;top:691.0px;transform:scaleX(0.9105)">%</span>
<span class="t c" style="left:667.4px;width:400px;text-align:center;top:691.0px">5</span>
<span class="t r" style="right:731.4px;top:691.0px">16</span>
<span class="t l" style="left:1034.2px;top:691.0px;transform:scaleX(0.9105)">%</span>
<span class="t c" style="left:967.3px;width:400px;text-align:center;top:691.0px">10</span>
<span class="t r" style="right:431.4px;top:691.0px">32</span>
<span class="t l" style="left:1334.2px;top:691.0px;transform:scaleX(0.9105)">%</span>
<span class="t c" style="left:1267.3px;width:400px;text-align:center;top:691.0px">7,7</span>
<span class="t r" style="right:131.4px;top:691.0px">24</span>
<span class="t l" style="left:1634.2px;top:691.0px;transform:scaleX(0.9105)">%</span>
<span class="t l" style="left:34.5px;top:730.0px;transform:scaleX(1.0231)">Erstgebärende</span>
<span class="t c" style="left:366.1px;width:400px;text-align:center;top:730.0px">5</span>
<span class="t r" style="right:1031.4px;top:730.0px">63</span>
<span class="t l" style="left:734.2px;top:730.0px;transform:scaleX(0.9105)">%</span>
<span class="t c" style="left:667.4px;width:400px;text-align:center;top:730.0px">3</span>
<span class="t r" style="right:731.4px;top:730.0px">60</span>
<span class="t l" style="left:1034.2px;top:730.0px;transform:scaleX(0.9105)">%</span>
<span class="t c" style="left:967.3px;width:400px;text-align:center;top:730.0px">9</span>
<span class="t r" style="right:431.4px;top:730.0px">90</span>
<span class="t l" style="left:1334.2px;top:730.0px;transform:scaleX(0.9105)">%</span>
<span class="t c" style="left:1267.3px;width:400px;text-align:center;top:730.0px">5,7</span>
<span class="t r" style="right:131.4px;top:730.0px">74</span>
<span class="t l" style="left:1634.2px;top:730.0px;transform:scaleX(0.9105)">%</span>
<span class="t l" style="left:35.5px;top:769.0px;transform:scaleX(1.0494)">Zweit- oder Mehrgebärende</span>
<span class="t c" style="left:366.1px;width:400px;text-align:center;top:769.0px">3</span>
<span class="t r" style="right:1031.4px;top:769.0px">38</span>
<span class="t l" style="left:734.2px;top:769.0px;transform:scaleX(0.9105)">%</span>
<span class="t c" style="left:667.4px;width:400px;text-align:center;top:769.0px">1</span>
<span class="t r" style="right:731.4px;top:769.0px">20</span>
<span class="t l" style="left:1034.2px;top:769.0px;transform:scaleX(0.9105)">%</span>
<span class="t c" style="left:967.3px;width:400px;text-align:center;top:769.0px">1</span>
<span class="t r" style="right:431.4px;top:769.0px">10</span>
<span class="t l" style="left:1334.2px;top:769.0px;transform:scaleX(0.9105)">%</span>
<span class="t c" style="left:1267.3px;width:400px;text-align:center;top:769.0px">1,7</span>
<span class="t r" style="right:131.4px;top:769.0px">22</span>
<span class="t l" style="left:1634.2px;top:769.0px;transform:scaleX(0.9105)">%</span>
<span class="t l" style="left:34.5px;top:808.0px;transform:scaleX(1.0321)">Spontangeburt im Krankenhaus</span>
<span class="t c" style="left:366.1px;width:400px;text-align:center;top:808.0px">3</span>
<span class="t r" style="right:1031.4px;top:808.0px">9</span>
<span class="t l" style="left:734.2px;top:808.0px;transform:scaleX(0.9105)">%</span>
<span class="t c" style="left:667.4px;width:400px;text-align:center;top:808.0px">4</span>
<span class="t r" style="right:731.4px;top:808.0px">13</span>
<span class="t l" style="left:1034.2px;top:808.0px;transform:scaleX(0.9105)">%</span>
<span class="t c" style="left:967.3px;width:400px;text-align:center;top:808.0px">5</span>
<span class="t r" style="right:431.4px;top:808.0px">16</span>
<span class="t l" style="left:1334.2px;top:808.0px;transform:scaleX(0.9105)">%</span>
<span class="t c" style="left:1267.3px;width:400px;text-align:center;top:808.0px">4,0</span>
<span class="t r" style="right:131.4px;top:808.0px">13</span>
<span class="t l" style="left:1634.2px;top:808.0px;transform:scaleX(0.9105)">%</span>
<span class="t l" style="left:34.5px;top:848.0px;transform:scaleX(1.0187)">Saugglockengeburt im Krankenhaus</span>
<span class="t c" style="left:366.1px;width:400px;text-align:center;top:848.0px">1</span>
<span class="t r" style="right:1031.4px;top:848.0px">3</span>
<span class="t l" style="left:734.2px;top:848.0px;transform:scaleX(0.9105)">%</span>
<span class="t c" style="left:667.4px;width:400px;text-align:center;top:848.0px">0</span>
<span class="t r" style="right:731.4px;top:848.0px">0</span>
<span class="t l" style="left:1034.2px;top:848.0px;transform:scaleX(0.9105)">%</span>
<span class="t c" style="left:967.3px;width:400px;text-align:center;top:848.0px">2</span>
<span class="t r" style="right:431.4px;top:848.0px">6</span>
<span class="t l" style="left:1334.2px;top:848.0px;transform:scaleX(0.9105)">%</span>
<span class="t c" style="left:1267.3px;width:400px;text-align:center;top:848.0px">1,0</span>
<span class="t r" style="right:131.4px;top:848.0px">3</span>
<span class="t l" style="left:1634.2px;top:848.0px;transform:scaleX(0.9105)">%</span>
<span class="t l" style="left:34.5px;top:887.0px;transform:scaleX(1.0176)">Kaiserschnitt im Krankenhaus</span>
<span class="t c" style="left:366.1px;width:400px;text-align:center;top:887.0px">3</span>
<span class="t r" style="right:1031.4px;top:887.0px">9</span>
<span class="t l" style="left:734.2px;top:887.0px;transform:scaleX(0.9105)">%</span>
<span class="t c" style="left:667.4px;width:400px;text-align:center;top:887.0px">0</span>
<span class="t r" style="right:731.4px;top:887.0px">0</span>
<span class="t l" style="left:1034.2px;top:887.0px;transform:scaleX(0.9105)">%</span>
<span class="t c" style="left:967.3px;width:400px;text-align:center;top:887.0px">2</span>
<span class="t r" style="right:431.4px;top:887.0px">6</span>
<span class="t l" style="left:1334.2px;top:887.0px;transform:scaleX(0.9105)">%</span>
<span class="t c" style="left:1267.3px;width:400px;text-align:center;top:887.0px">1,7</span>
<span class="t r" style="right:131.4px;top:887.0px">5</span>
<span class="t l" style="left:1634.2px;top:887.0px;transform:scaleX(0.9105)">%</span>
<span class="t l k" style="left:35.1px;top:965.0px;transform:scaleX(1.0596)">Mädchen</span>
<span class="t c k" style="left:461.1px;width:400px;text-align:center;top:965.0px">18</span>
<span class="t c k" style="left:762.3px;width:400px;text-align:center;top:965.0px">16</span>
<span class="t c k" style="left:1062.3px;width:400px;text-align:center;top:965.0px">15</span>
<span class="t l k" style="left:35.2px;top:1005.0px;transform:scaleX(1.0143)">Burschen</span>
<span class="t c k" style="left:461.1px;width:400px;text-align:center;top:1005.0px">15</span>
<span class="t c k" style="left:762.3px;width:400px;text-align:center;top:1005.0px">15</span>
<span class="t c k" style="left:1062.3px;width:400px;text-align:center;top:1005.0px">16</span>
</div>
</body></html>
